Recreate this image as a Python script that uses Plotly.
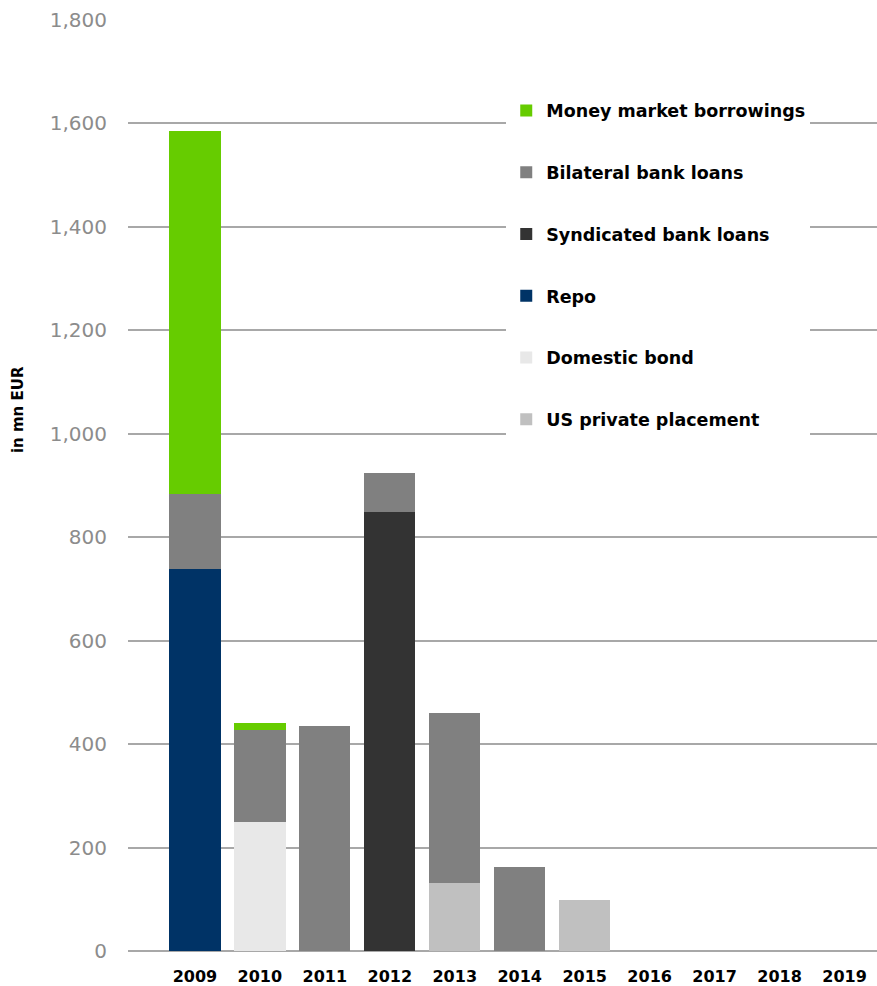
import plotly.graph_objects as go

years = ["2009", "2010", "2011", "2012", "2013", "2014", "2015", "2016", "2017", "2018", "2019"]

# stacked segments (mn EUR), bottom to top
us_private_placement = [0, 0, 0, 0, 132, 0, 98, 0, 0, 0, 0]
domestic_bond = [0, 250, 0, 0, 0, 0, 0, 0, 0, 0, 0]
repo = [739, 0, 0, 0, 0, 0, 0, 0, 0, 0, 0]
syndicated_bank_loans = [0, 0, 0, 848, 0, 0, 0, 0, 0, 0, 0]
bilateral_bank_loans = [145, 177, 435, 76, 328, 162, 0, 0, 0, 0, 0]
money_market_borrowings = [702, 13, 0, 0, 0, 0, 0, 0, 0, 0, 0]

y_ticks = [0, 200, 400, 600, 800, 1000, 1200, 1400, 1600, 1800]
y_tick_labels = ["0", "200", "400", "600", "800", "1,000", "1,200", "1,400", "1,600", "1,800"]

# (name, values, colour, legend rank)
series = [
    ("US private placement", us_private_placement, "#c0c0c0", 6),
    ("Domestic bond", domestic_bond, "#e8e8e8", 5),
    ("Repo", repo, "#003366", 4),
    ("Syndicated bank loans", syndicated_bank_loans, "#333333", 3),
    ("Bilateral bank loans", bilateral_bank_loans, "#808080", 2),
    ("Money market borrowings", money_market_borrowings, "#66cc00", 1),
]

fig = go.Figure()
for name, vals, color, rank in series:
    fig.add_trace(go.Bar(
        x=years, y=vals, name=name, legendgroup=name, legendrank=rank,
        marker=dict(color=color, line=dict(width=0)),
        width=0.79,
    ))

fig.update_layout(
    width=877, height=986,
    barmode="stack",
    plot_bgcolor="white", paper_bgcolor="white",
    margin=dict(l=128, r=0, t=20, b=35),
    font=dict(family="DejaVu Sans", color="#000000"),
    showlegend=True,
    legend=dict(
        x=0.505, y=0.922, xanchor="left", yanchor="top",
        bgcolor="white", borderwidth=0,
        traceorder="grouped", tracegroupgap=36,
        font=dict(family="DejaVu Sans", size=17.5, color="#000000", weight="bold"),
    ),
    xaxis=dict(
        type="category", range=[-1.03, 10.5],
        showgrid=False, showline=False, zeroline=False, ticks="",
        tickfont=dict(family="DejaVu Sans", size=16, color="#000000", weight="bold"),
        ticklabelstandoff=14,
        automargin=False,
    ),
    yaxis=dict(
        range=[0, 1800], tickvals=y_ticks, ticktext=y_tick_labels,
        showgrid=True, gridcolor="#a8a8a8", gridwidth=2,
        zeroline=True, zerolinecolor="#a8a8a8", zerolinewidth=2,
        showline=False, ticks="",
        tickfont=dict(family="DejaVu Sans", size=20, color="#8c8c8c"),
        ticklabelstandoff=20,
        automargin=False,
    ),
    annotations=[dict(
        text="<b>in mn EUR</b>", textangle=-90,
        xref="paper", yref="paper", x=-0.147, y=0.582,
        xanchor="center", yanchor="middle", showarrow=False,
        font=dict(family="DejaVu Sans", size=15, color="#000000"),
    )],
)

fig.write_html(
    "out.html",
    config={"displayModeBar": False},
    post_script="document.body.style.margin='0';document.body.style.overflow='hidden';",
)
